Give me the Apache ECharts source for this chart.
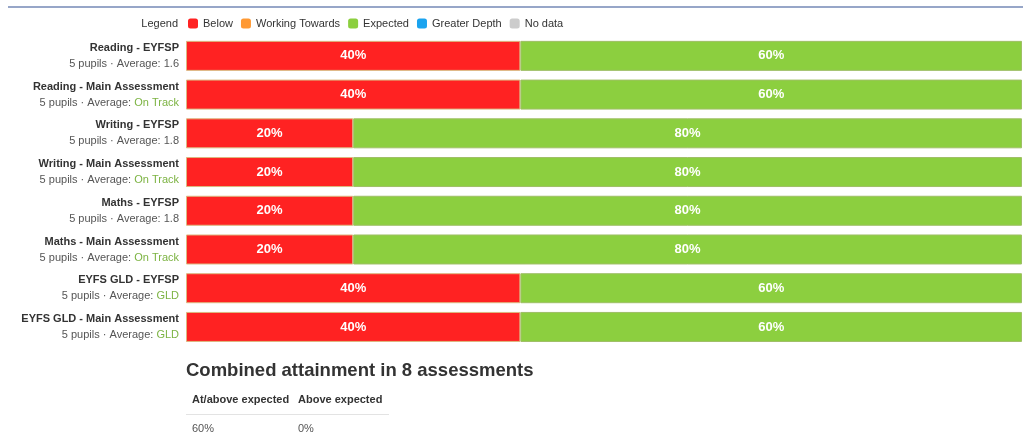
<!DOCTYPE html>
<html>
<head>
<meta charset="utf-8">
<script src="https://cdn.jsdelivr.net/npm/echarts@6/dist/echarts.min.js"></script>
<style>
html,body{margin:0;padding:0;background:#fff;}
#c{width:1023px;height:435px;}
</style>
</head>
<body>
<div id="c"></div>
<script>
var categories = ["Reading - EYFSP","Reading - Main Assessment","Writing - EYFSP","Writing - Main Assessment","Maths - EYFSP","Maths - Main Assessment","EYFS GLD - EYFSP","EYFS GLD - Main Assessment"];
var pupils = [5,5,5,5,5,5,5,5];
var averages = ["1.6","On Track","1.8","On Track","1.8","On Track","GLD","GLD"];
var below = [40,40,20,20,20,20,40,40];
var workingTowards = [0,0,0,0,0,0,0,0];
var expected = [60,60,80,80,80,80,60,60];
var greaterDepth = [0,0,0,0,0,0,0,0];
var noData = [0,0,0,0,0,0,0,0];
var combinedTitle = "Combined attainment in 8 assessments";
var combinedHeaders = ["At/above expected","Above expected"];
var combinedValues = ["60%","0%"];

var FONT = "'Liberation Sans', Arial, sans-serif";
var chart = echarts.init(document.getElementById('c'));

function mk(name, data, color, border) {
  return {
    name: name, type: 'bar', stack: 'a', data: data, barWidth: 30,
    itemStyle: {color: color, borderColor: border || color, borderWidth: border ? 1 : 0},
    label: {show: true, position: 'inside', color: '#fff', fontWeight: 'bold', fontSize: 13, fontFamily: FONT,
      formatter: function(p){ return p.value ? p.value + '%' : ''; }},
    emphasis: {disabled: true}
  };
}

chart.setOption({
  animation: false,
  textStyle: {fontFamily: FONT},
  legend: {
    left: 188, top: 18, padding: 0, itemWidth: 10, itemHeight: 10, itemGap: 8,
    icon: 'roundRect',
    itemStyle: {borderWidth: 0},
    textStyle: {fontSize: 11, color: '#333', fontFamily: FONT},
    selectedMode: false,
    data: ['Below','Working Towards','Expected','Greater Depth','No data']
  },
  grid: {left: 186, right: 1, top: 36.5, height: 309.8, containLabel: false},
  xAxis: {type: 'value', min: 0, max: 100, show: false},
  yAxis: {
    type: 'category', inverse: true, data: categories,
    axisLine: {show: false}, axisTick: {show: false},
    axisLabel: {
      margin: 7, align: 'right',
      formatter: function(v, i){
        var avg = averages[i];
        var isNum = !isNaN(parseFloat(avg));
        return '{b|' + v + '}\n{s|' + pupils[i] + ' pupils · Average: }' + (isNum ? '{s|' + avg + '}' : '{g|' + avg + '}');
      },
      rich: {
        b: {fontWeight: 'bold', fontSize: 11, color: '#333', fontFamily: FONT, lineHeight: 16, align: 'right'},
        s: {fontSize: 11, color: '#555', fontFamily: FONT, lineHeight: 16, align: 'right'},
        g: {fontSize: 11, color: '#7cb342', fontFamily: FONT, lineHeight: 16, align: 'right'}
      }
    }
  },
  series: [
    mk('Below', below, '#ff2222', '#dcb880'),
    mk('Working Towards', workingTowards, '#ff9933', null),
    mk('Expected', expected, '#8ccf3f', '#9fbf66'),
    mk('Greater Depth', greaterDepth, '#1aa3ef', null),
    mk('No data', noData, '#cccccc', null)
  ],
  graphic: [
    {type: 'line', shape: {x1: 8, y1: 7, x2: 1023, y2: 7}, style: {stroke: '#7488b6', lineWidth: 1.5}},
    {type: 'text', x: 178, y: 23.5, style: {text: 'Legend', fill: '#333', font: '11px ' + FONT, textAlign: 'right', textVerticalAlign: 'middle'}},
    {type: 'text', x: 186, y: 371, style: {text: combinedTitle, fill: '#333', font: 'bold 18.5px ' + FONT, textAlign: 'left', textVerticalAlign: 'middle'}},
    {type: 'text', x: 192, y: 400, style: {text: combinedHeaders[0], fill: '#333', font: 'bold 11px ' + FONT, textVerticalAlign: 'middle'}},
    {type: 'text', x: 298, y: 400, style: {text: combinedHeaders[1], fill: '#333', font: 'bold 11px ' + FONT, textVerticalAlign: 'middle'}},
    {type: 'line', shape: {x1: 186, y1: 414.5, x2: 389, y2: 414.5}, style: {stroke: '#e3e3e3', lineWidth: 1}},
    {type: 'text', x: 192, y: 429, style: {text: combinedValues[0], fill: '#555', font: '11px ' + FONT, textVerticalAlign: 'middle'}},
    {type: 'text', x: 298, y: 429, style: {text: combinedValues[1], fill: '#555', font: '11px ' + FONT, textVerticalAlign: 'middle'}}
  ]
});
</script>
</body>
</html>
